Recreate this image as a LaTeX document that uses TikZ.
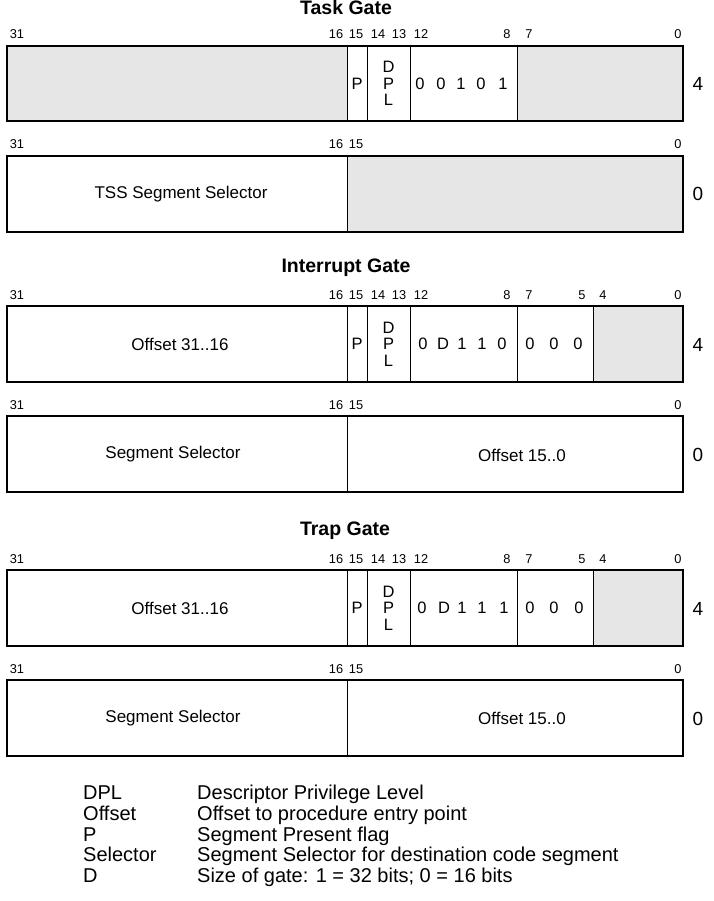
\documentclass[tikz,border=0pt]{standalone}
\usepackage{fontspec}
\setmainfont{Liberation Sans}
\definecolor{shade}{HTML}{E6E6E6}
\newcommand\fld[7]{\node[field, fill=#6, minimum width={#3-#2}, minimum height={#5-#4}] (#1) at ({(#2+#3)/2},{(#4+#5)/2}) {#7};}
\begin{document}
\begin{tikzpicture}[x=1pt,y=-1pt,
  field/.style={draw, line width=1pt, inner sep=0pt, outer sep=0pt},
  frame/.style={draw, line width=2pt},
  bitnum/.style={inner sep=0pt, anchor=base, font=\fontsize{12.8}{14}\selectfont},
  txt/.style={inner sep=0pt, font=\fontsize{17}{20}\selectfont},
  val/.style={inner sep=0pt, font=\fontsize{16.5}{19}\selectfont},
  dpl/.style={inner sep=0pt, align=center, font=\fontsize{16.5}{16.5}\selectfont},
  dword/.style={inner sep=0pt, font=\fontsize{19}{22}\selectfont},
  title/.style={inner sep=0pt, font=\bfseries\fontsize{19.5}{22}\selectfont},
  legend/.style={inner sep=0pt, anchor=base west, font=\fontsize{20}{22}\selectfont},
]
\useasboundingbox (0,0) rectangle (713,901);

% ---------------- Task Gate ----------------
\node[title] (ttitle) at (346,8) {Task Gate};
\fld{ta}{7}{347}{46}{121}{shade}{}
\fld{tp}{347}{367}{46}{121}{white}{}
\fld{td}{367}{410}{46}{121}{white}{}
\fld{tt}{410}{517}{46}{121}{white}{}
\fld{tl}{517}{683}{46}{121}{shade}{}
\draw[frame] (ta.north west) rectangle (tl.south east);
\node[val] (tpP) at (tp) {P};
\node[dpl] (tdD) at (td) {D\\P\\L};
\foreach \x/\v [count=\i] in {420/0,441/0,461/1,481/0,503/1} \node[val] (tv\i) at (\x,83.5) {\v};
\foreach \x/\v [count=\i] in {17/31,336/16,356/15,378/14,399/13,421/12,507/8,529/7,678/0} \node[bitnum] (tb\i) at (\x,39) {\v};
\node[dword] (tw4) at (698,84) {4};

\fld{sa}{7}{347}{156}{232}{white}{}
\fld{sb}{347}{683}{156}{232}{shade}{}
\draw[frame] (sa.north west) rectangle (sb.south east);
\node[txt] (saT) at (181,194) {TSS Segment Selector};
\foreach \x/\v [count=\i] in {17/31,336/16,356/15,678/0} \node[bitnum] (sb\i) at (\x,149) {\v};
\node[dword] (tw0) at (698,194) {0};

% ---------------- Interrupt Gate ----------------
\node[title] (ititle) at (346,268) {Interrupt Gate};
\fld{ia}{7}{347}{306}{382}{white}{}
\fld{ip}{347}{367}{306}{382}{white}{}
\fld{id}{367}{410}{306}{382}{white}{}
\fld{it}{410}{517}{306}{382}{white}{}
\fld{iz}{517}{593}{306}{382}{white}{}
\fld{il}{593}{683}{306}{382}{shade}{}
\draw[frame] (ia.north west) rectangle (il.south east);
\node[txt] (iaT) at (180,344) {Offset 31..16};
\node[val] (ipP) at (ip) {P};
\node[dpl] (idD) at (id) {D\\P\\L};
\foreach \x/\v [count=\i] in {423/0,443/D,462/1,482/1,502/0,530/0,554/0,578/0} \node[val] (iv\i) at (\x,344) {\v};
\foreach \x/\v [count=\i] in {17/31,336/16,356/15,378/14,399/13,421/12,507/8,529/7,582/5,603/4,678/0} \node[bitnum] (ib\i) at (\x,299) {\v};
\node[dword] (iw4) at (698,345) {4};

\fld{ja}{7}{347}{416}{492}{white}{}
\fld{jb}{347}{683}{416}{492}{white}{}
\draw[frame] (ja.north west) rectangle (jb.south east);
\node[txt] (jaT) at (173,454) {Segment Selector};
\node[txt] (jbT) at (522,455) {Offset 15..0};
\foreach \x/\v [count=\i] in {17/31,336/16,356/15,678/0} \node[bitnum] (jb\i) at (\x,409) {\v};
\node[dword] (jw0) at (698,455) {0};

% ---------------- Trap Gate ----------------
\node[title] (rtitle) at (345,531) {Trap Gate};
\fld{ra}{7}{347}{570}{646}{white}{}
\fld{rp}{347}{367}{570}{646}{white}{}
\fld{rd}{367}{410}{570}{646}{white}{}
\fld{rt}{410}{517}{570}{646}{white}{}
\fld{rz}{517}{593}{570}{646}{white}{}
\fld{rl}{593}{683}{570}{646}{shade}{}
\draw[frame] (ra.north west) rectangle (rl.south east);
\node[txt] (raT) at (180,608) {Offset 31..16};
\node[val] (rpP) at (rp) {P};
\node[dpl] (rdD) at (rd) {D\\P\\L};
\foreach \x/\v [count=\i] in {422/0,444/D,462/1,482/1,504/1,530/0,554/0,579/0} \node[val] (rv\i) at (\x,608) {\v};
\foreach \x/\v [count=\i] in {17/31,336/16,356/15,378/14,399/13,421/12,507/8,529/7,582/5,603/4,678/0} \node[bitnum] (rb\i) at (\x,563) {\v};
\node[dword] (rw4) at (698,609) {4};

\fld{ka}{7}{347}{680}{756}{white}{}
\fld{kb}{347}{683}{680}{756}{white}{}
\draw[frame] (ka.north west) rectangle (kb.south east);
\node[txt] (kaT) at (173,718) {Segment Selector};
\node[txt] (kbT) at (522,718) {Offset 15..0};
\foreach \x/\v [count=\i] in {17/31,336/16,356/15,678/0} \node[bitnum] (kb\i) at (\x,673) {\v};
\node[dword] (kw0) at (698,719) {0};

% ---------------- Legend ----------------
\foreach \y/\k/\d [count=\i] in {799/DPL/Descriptor Privilege Level,
  820/Offset/Offset to procedure entry point,
  841/P/Segment Present flag,
  861/Selector/Segment Selector for destination code segment,
  882/D/{Size of gate: 1 = 32 bits; 0 = 16 bits}} {
  \node[legend] (lk\i) at (83,\y) {\k};
  \node[legend] (ld\i) at (197,\y) {\d};
}
\end{tikzpicture}
\end{document}
